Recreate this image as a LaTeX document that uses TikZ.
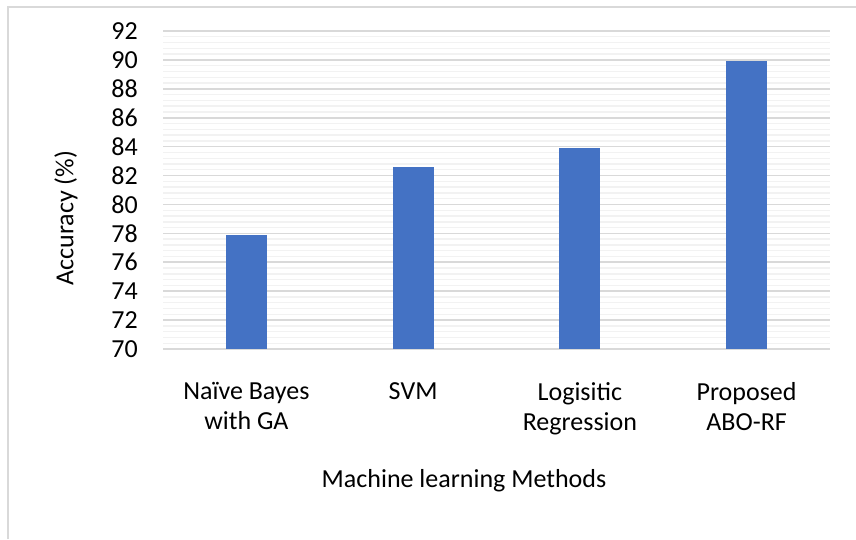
\documentclass[tikz,border=0pt]{standalone}
\usepackage{fontspec}
\setmainfont{Carlito}
\usepackage{xcolor}
\usepackage{tikz}
\usetikzlibrary{positioning}

\definecolor{barblue}{HTML}{4472C4}
\definecolor{majorgrid}{HTML}{D9D9D9}
\definecolor{minorgrid}{HTML}{F2F2F2}

\begin{document}
\begin{tikzpicture}[
    x=1pt, y=-1pt,
    chartfont/.style={font=\fontsize{26}{30}\selectfont},
    tick_label/.style={chartfont, anchor=east, inner sep=0pt},
    cat_label/.style={chartfont, anchor=north, inner sep=0pt, align=center},
    bar/.style={fill=barblue, draw=none},
    major_line/.style={draw=majorgrid, line width=1.6pt},
    minor_line/.style={draw=minorgrid, line width=1.4pt},
    frame_line/.style={draw=majorgrid, line width=2pt}
]
\useasboundingbox (0,0) rectangle (856,539);

% Frame
\coordinate (fr_tl) at (8,7);
\coordinate (fr_tr) at (856,7);
\coordinate (fr_bl) at (8,539);
\draw[frame_line] (fr_bl) -- (fr_tl) -- (fr_tr);

% Plot area (value axis from 70 to 92)
\begin{scope}[yshift=-349pt, y=14.4545pt]
  % Grid
  \foreach \k in {1,...,54} {
    \pgfmathsetmacro{\v}{0.4*\k}
    \draw[minor_line] (163,\v) -- (830,\v);
  }
  \foreach \v in {0,2,...,22} {
    \draw[major_line] (163,\v) -- (830,\v);
    \pgfmathtruncatemacro{\lab}{70+\v}
    \node[tick_label] (tick\lab) at (138,\v) {\lab};
  }
  % Bars
  \foreach \val [count=\i from 0] in {77.9, 82.6, 83.9, 89.9} {
    \pgfmathsetmacro{\cx}{163+166.75*(\i+0.5)}
    \pgfmathsetmacro{\top}{\val-70}
    \fill[bar] (\cx-20.5,0) rectangle (\cx+20.5,\top);
  }
\end{scope}

% Category labels
\node[cat_label] (nb) at (246.4,382) {Naïve Bayes\\with GA};
\node[cat_label] (svm) at (413.1,382) {SVM};
\node[cat_label] (lr) at (579.9,382) {Logisitic\\Regression};
\node[cat_label] (abo) at (746.6,382) {Proposed\\ABO-RF};

% Axis titles
\node[chartfont, anchor=base, inner sep=0pt] (xtitle) at (464,487) {Machine learning Methods};
\node[chartfont, rotate=90, inner sep=0pt] (ytitle) at (66,218) {Accuracy (\%)};

\end{tikzpicture}
\end{document}
